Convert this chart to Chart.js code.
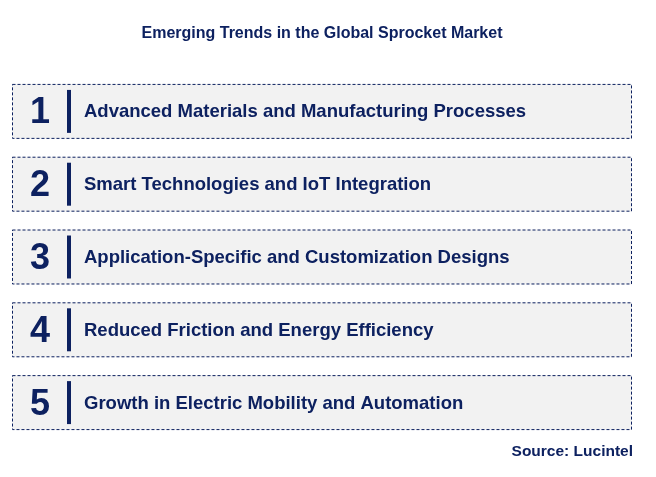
<!DOCTYPE html>
<html><head><meta charset="utf-8">
<script src="https://cdn.jsdelivr.net/npm/chart.js@4"></script>
<style>html,body{margin:0;padding:0;background:#fff}#w{width:656px;height:477px}</style>
</head><body><div id="w"><canvas id="c"></canvas></div>
<script>
const numbers = ["1","2","3","4","5"];
const trends = [
  "Advanced Materials and Manufacturing Processes",
  "Smart Technologies and IoT Integration",
  "Application-Specific and Customization Designs",
  "Reduced Friction and Energy Efficiency",
  "Growth in Electric Mobility and Automation"
];
const values = [1,1,1,1,1];
const titleText = "Emerging Trends in the Global Sprocket Market";
const sourceText = "Source: Lucintel";
const navy = "#0d2160";

const deco = {
  id: "deco",
  afterDatasetsDraw(chart) {
    const ctx = chart.ctx;
    const meta = chart.getDatasetMeta(0);
    meta.data.forEach((bar, i) => {
      const x0 = bar.base, x1 = bar.x, h = bar.height, yt = bar.y - h/2;
      ctx.save();
      ctx.strokeStyle = navy; ctx.lineWidth = 1; ctx.setLineDash([3,2]);
      ctx.strokeRect(x0 + 0.5, yt + 0.5, x1 - x0 - 1, h - 1);
      ctx.setLineDash([]);
      ctx.fillStyle = navy;
      ctx.fillRect(x0 + 55, yt + 6, 4, h - 12);
      ctx.font = "bold 36px Arial, 'Liberation Sans'";
      ctx.textAlign = "center"; ctx.textBaseline = "middle";
      ctx.fillText(numbers[i], x0 + 28, bar.y + 2);
      ctx.font = "bold 18.5px Arial, 'Liberation Sans'";
      ctx.textAlign = "left";
      ctx.fillText(trends[i], x0 + 72, bar.y + 1);
      ctx.restore();
    });
    ctx.save();
    ctx.fillStyle = navy; ctx.font = "bold 15.5px Arial, 'Liberation Sans'";
    ctx.textAlign = "right"; ctx.textBaseline = "middle";
    ctx.fillText(sourceText, 633, 452);
    ctx.restore();
  }
};

new Chart(document.getElementById("c"), {
  type: "bar",
  data: { labels: trends, datasets: [{ data: values, backgroundColor: "#f2f2f2", borderWidth: 0,
    categoryPercentage: 1, barPercentage: 0.755 }] },
  options: {
    indexAxis: "y", responsive: true, maintainAspectRatio: false, animation: false,
    layout: { padding: { left: 12, right: 24, top: 0, bottom: 38 } },
    scales: { x: { display: false, min: 0, max: 1 }, y: { display: false } },
    plugins: {
      legend: { display: false }, tooltip: { enabled: false },
      title: { display: true, text: titleText, color: navy,
        font: { family: "Arial, 'Liberation Sans'", size: 16, weight: "bold" },
        padding: { top: 24, bottom: 31.8 } }
    }
  },
  plugins: [deco]
});
</script></body></html>
